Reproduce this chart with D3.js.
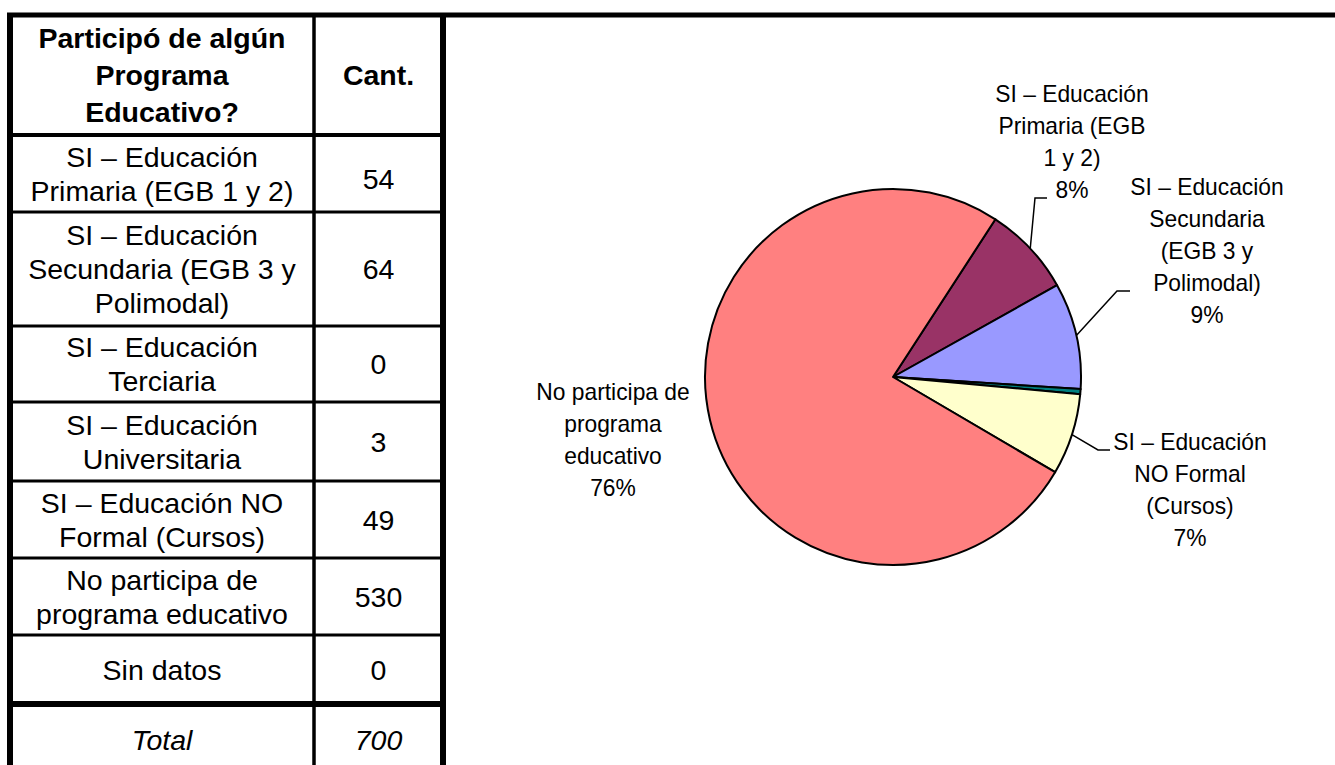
<!DOCTYPE html>
<html>
<head>
<meta charset="utf-8">
<script src="https://cdn.jsdelivr.net/npm/d3@7"></script>
<style>
  html, body { margin: 0; padding: 0; background: #fff; }
  svg { display: block; }
  text { font-family: "Liberation Sans", Arial, sans-serif; fill: #000; }
</style>
</head>
<body>
<svg id="chart" width="1335" height="765"></svg>
<script>
// ---------- DATA ----------
const categories = [
  "SI – Educación Primaria (EGB 1 y 2)",
  "SI – Educación Secundaria (EGB 3 y Polimodal)",
  "SI – Educación Terciaria",
  "SI – Educación Universitaria",
  "SI – Educación NO Formal (Cursos)",
  "No participa de programa educativo",
  "Sin datos"
];
const values = [54, 64, 0, 3, 49, 530, 0];
const headerLines = ["Participó de algún", "Programa", "Educativo?"];
const headerCount = "Cant.";
const totalLabel = "Total";
const tableLines = [
  ["SI – Educación", "Primaria (EGB 1 y 2)"],
  ["SI – Educación", "Secundaria (EGB 3 y", "Polimodal)"],
  ["SI – Educación", "Terciaria"],
  ["SI – Educación", "Universitaria"],
  ["SI – Educación NO", "Formal (Cursos)"],
  ["No participa de", "programa educativo"],
  ["Sin datos"]
];
const pieLabelLines = [
  ["SI – Educación", "Primaria (EGB", "1 y 2)"],
  ["SI – Educación", "Secundaria", "(EGB 3 y", "Polimodal)"],
  null,
  null,
  ["SI – Educación", "NO Formal", "(Cursos)"],
  ["No participa de", "programa", "educativo"],
  null
];
const sliceColors = ["#993366", "#9999FF", "#CCFFFF", "#008080", "#FFFFCC", "#FF8080", "#0066CC"];

// ---------- LAYOUT ----------
const svg = d3.select("#chart");
const W = 1335, H = 765;
const xLeft = 10, xDiv = 314, xRight = 443;
const rowEdges = [15, 135, 212, 326, 402, 481, 558, 635, 704, 765];
const tableFont = 28.5;
const capH = 0.716 * tableFont;

const total = d3.sum(values);

// Table text
const g = svg.append("g");
const col1 = (xLeft + xDiv) / 2, col2 = (xDiv + xRight) / 2;

function block(lines, cx, cy, lh, opts) {
  const n = lines.length;
  const first = cy - (n - 1) * lh / 2 + capH / 2;
  lines.forEach((t, i) => {
    const tx = g.append("text")
      .attr("x", cx).attr("y", first + i * lh)
      .attr("text-anchor", "middle")
      .style("font-size", tableFont + "px")
      .text(t);
    if (opts && opts.bold) tx.style("font-weight", "bold");
    if (opts && opts.italic) tx.style("font-style", "italic");
  });
}

// header
const hc = (rowEdges[0] + rowEdges[1]) / 2;
block(headerLines, col1, hc, 37, {bold: true});
block([headerCount], col2, hc, 37, {bold: true});

tableLines.forEach((lines, i) => {
  const cy = (rowEdges[i + 1] + rowEdges[i + 2]) / 2;
  block(lines, col1, cy, 34);
  block([String(values[i])], col2, cy + (i === 0 ? 5 : 0), 34);
});
// total row
const tc = 740;
block([totalLabel], col1, tc, 34, {italic: true});
block([String(total)], col2, tc, 34, {italic: true});

// Table lines
const lines = svg.append("g").attr("stroke", "#000");
lines.append("line").attr("x1", xLeft - 3).attr("x2", W).attr("y1", rowEdges[0]).attr("y2", rowEdges[0]).attr("stroke-width", 5);
lines.append("line").attr("x1", xLeft).attr("x2", xLeft).attr("y1", rowEdges[0]).attr("y2", H).attr("stroke-width", 6);
lines.append("line").attr("x1", xDiv).attr("x2", xDiv).attr("y1", rowEdges[0]).attr("y2", H).attr("stroke-width", 3.5);
lines.append("line").attr("x1", xRight).attr("x2", xRight).attr("y1", rowEdges[0]).attr("y2", H).attr("stroke-width", 6);
for (let i = 1; i <= 8; i++) {
  const sw = i === 1 ? 4 : (i === 8 ? 6 : 3);
  lines.append("line").attr("x1", xLeft).attr("x2", xRight)
    .attr("y1", rowEdges[i]).attr("y2", rowEdges[i]).attr("stroke-width", sw);
}

// ---------- PIE ----------
const cx = 893, cy = 377, R = 188;
const start = 33 * Math.PI / 180;
const pie = d3.pie().sort(null).value(d => d).startAngle(start).endAngle(start + 2 * Math.PI);
const arcs = pie(values);
const arc = d3.arc().innerRadius(0).outerRadius(R);

const pg = svg.append("g").attr("transform", `translate(${cx},${cy})`);
pg.selectAll("path.slice")
  .data(arcs.map((a, i) => ({a, i})).filter(d => d.a.value > 0))
  .enter().append("path")
  .attr("class", "slice")
  .attr("d", d => arc(d.a))
  .attr("fill", d => sliceColors[d.i])
  .attr("stroke", "#000")
  .attr("stroke-width", 2)
  .attr("stroke-linejoin", "round");

const labelLayout = [
  {tx: 179, ty: -275, elbow: [142, -179], end: [154, -179]},
  {tx: 314, ty: -182, elbow: [224, -86], end: [237, -86]},
  null, null,
  {tx: 297, ty: 73, elbow: [205, 73], end: [217, 73]},
  {tx: -280, ty: 23, elbow: null, end: null},
  null
];
const labelFont = 24, labelLH = 32, labelSqueeze = 0.95;

arcs.forEach((a, i) => {
  const lay = labelLayout[i];
  const lbl = pieLabelLines[i];
  if (!lay || !lbl || a.value === 0) return;
  const pct = Math.round(a.value / total * 100) + "%";
  const all = lbl.concat([pct]);
  all.forEach((t, k) => {
    const el = pg.append("text")
      .attr("x", lay.tx).attr("y", lay.ty + k * labelLH)
      .attr("text-anchor", "middle")
      .style("font-size", labelFont + "px")
      .text(t);
    const len = el.node().getComputedTextLength();
    el.attr("textLength", len * labelSqueeze).attr("lengthAdjust", "spacingAndGlyphs");
  });
  if (lay.elbow) {
    const mid = (a.startAngle + a.endAngle) / 2;
    const p0 = [R * Math.sin(mid), -R * Math.cos(mid)];
    pg.append("polyline")
      .attr("points", [p0, lay.elbow, lay.end].map(p => p.join(",")).join(" "))
      .attr("fill", "none").attr("stroke", "#000").attr("stroke-width", 1.5);
  }
});
</script>
</body>
</html>
